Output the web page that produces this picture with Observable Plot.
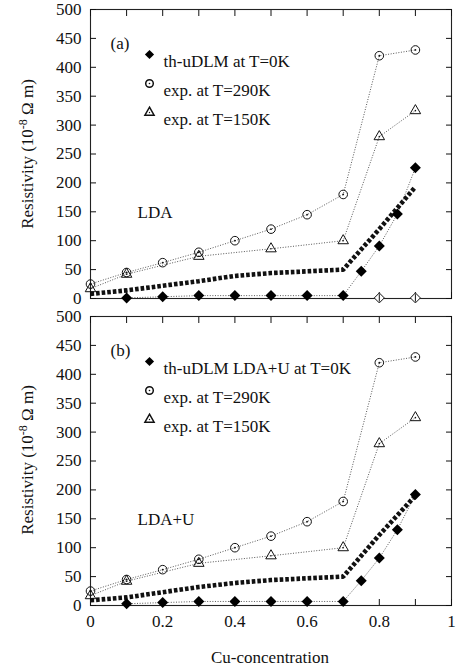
<!DOCTYPE html>
<html><head><meta charset="utf-8">
<script src="https://cdn.jsdelivr.net/npm/d3@7"></script>
<script src="https://cdn.jsdelivr.net/npm/@observablehq/plot@0.6"></script>
<style>
body{margin:0;background:#fff;}
#wrap{position:relative;width:463px;height:670px;font-family:"Liberation Serif","Tinos","Times New Roman","DejaVu Serif",serif;color:#111;background:#fff;}
.panel{position:absolute;left:0;}
.ylab{position:absolute;font-size:17px;white-space:nowrap;transform:translate(-50%,-50%) rotate(-90deg);}
.ylab sup{font-size:12px;}
.xlab{position:absolute;font-size:17px;transform:translate(-50%,-50%);white-space:nowrap;}
svg text{font-family:"Liberation Serif","Tinos","Times New Roman","DejaVu Serif",serif;}
</style></head><body><div id="wrap"></div>
<script>
// ---- data ----
const cuX = [0, 0.1, 0.2, 0.3, 0.4, 0.5, 0.6, 0.7, 0.8, 0.9];
const exp290 = [25, 45, 62, 80, 100, 120, 145, 180, 420, 430];
const x150 = [0, 0.1, 0.3, 0.5, 0.7, 0.8, 0.9];
const exp150 = [17, 42, 73, 86, 100, 280, 325];
const thX = [0.1, 0.2, 0.3, 0.4, 0.5, 0.6, 0.7, 0.75, 0.8, 0.85, 0.9];
const thLDA = [1, 3, 5, 5, 5, 5, 5, 47, 91, 146, 226];
const thLDAU = [3, 5, 7, 7, 7, 7, 7, 43, 82, 131, 192];
const openX = [0.8, 0.9];
const openLDA = [1, 1];
const fitLDA = [8, 14, 22, 30, 39, 44, 47, 50, 120, 193];
const fitLDAU = [9, 14, 23, 32, 39, 44, 47, 50, 122, 190];
const xTicks = [0, 0.1, 0.2, 0.3, 0.4, 0.5, 0.6, 0.7, 0.8, 0.9, 1];
const xTickLabels = [0, 0.2, 0.4, 0.6, 0.8, 1];
const yTicks = [0, 50, 100, 150, 200, 250, 300, 350, 400, 450, 500];
const legendA = ["th-uDLM at T=0K", "exp. at T=290K", "exp. at T=150K"];
const legendB = ["th-uDLM LDA+U at T=0K", "exp. at T=290K", "exp. at T=150K"];

const pts = (xs, ys) => xs.map((x, i) => ({x, y: ys[i]}));

const diamondSym = {draw(ctx, size) {const r = Math.sqrt(size / Math.PI);
  ctx.moveTo(0, -r); ctx.lineTo(r, 0); ctx.lineTo(0, r); ctx.lineTo(-r, 0); ctx.closePath();}};
const diamondBar = {draw(ctx, size) {const r = Math.sqrt(size / Math.PI);
  ctx.moveTo(0, -r); ctx.lineTo(r, 0); ctx.lineTo(0, r); ctx.lineTo(-r, 0); ctx.closePath();
  ctx.moveTo(0, -r * 0.75); ctx.lineTo(0, r * 0.75);}};

const thin = {stroke: "#444", strokeWidth: 0.9, strokeDasharray: "1,1.6", strokeLinecap: "butt"};
const ink = "#111";
const serif = '"Liberation Serif", "Tinos", "Times New Roman", "DejaVu Serif", serif';

function panel({tag, label, legend, th, fit, open, xLabels}) {
  const rowsDy = [45, 74, 103];
  const marks = [
    Plot.frame({stroke: "#222", strokeWidth: 1.1}),
    Plot.axisY(yTicks, {anchor: "left", tickSize: -6, tickPadding: 15, tickFormat: d => String(d), label: null}),
    Plot.axisY(yTicks, {anchor: "right", tickSize: -6, tickFormat: () => "", label: null}),
    Plot.axisX(xTicks, {anchor: "top", tickSize: -6, tickFormat: () => "", label: null}),
    Plot.axisX(xTicks, {anchor: "bottom", tickSize: -6, tickFormat: () => "", label: null}),
    Plot.line(pts(cuX, exp290), {x: "x", y: "y", ...thin}),
    Plot.line(pts(x150, exp150), {x: "x", y: "y", ...thin}),
    Plot.line(pts(thX, th), {x: "x", y: "y", ...thin}),
    Plot.line(pts(cuX, fit), {x: "x", y: "y", stroke: ink, strokeWidth: 4.6, strokeDasharray: "3.6,2", strokeLinecap: "butt", strokeLinejoin: "miter"}),
    Plot.dot(pts(cuX, exp290), {x: "x", y: "y", r: 4.3, stroke: ink, strokeWidth: 1, fill: "none"}),
    Plot.dot(pts(cuX, exp290), {x: "x", y: "y", r: 0.9, fill: ink}),
    Plot.dot(pts(x150, exp150), {x: "x", y: "y", symbol: "triangle", r: 3.9, stroke: ink, strokeWidth: 1, fill: "none"}),
    Plot.dot(pts(x150, exp150), {x: "x", y: "y", r: 0.8, fill: ink}),
    Plot.dot(pts(thX, th), {x: "x", y: "y", symbol: diamondSym, r: 5.5, fill: "#000", stroke: "none"}),
    Plot.text([tag], {frameAnchor: "top-left", dx: 20, dy: 27, text: d => d, textAnchor: "start", fill: ink}),
    Plot.text([label], {frameAnchor: "top-left", dx: 47, dy: 196, text: d => d, textAnchor: "start", fill: ink}),
    Plot.dot([0], {frameAnchor: "top-left", dx: 59, dy: rowsDy[0], symbol: diamondSym, r: 4.6, fill: "#000", stroke: "none"}),
    Plot.dot([0], {frameAnchor: "top-left", dx: 59, dy: rowsDy[1], r: 3.8, stroke: ink, fill: "none"}),
    Plot.dot([0], {frameAnchor: "top-left", dx: 59, dy: rowsDy[1], r: 0.8, fill: ink}),
    Plot.dot([0], {frameAnchor: "top-left", dx: 59, dy: rowsDy[2], symbol: "triangle", r: 3.4, stroke: ink, fill: "none"}),
    Plot.dot([0], {frameAnchor: "top-left", dx: 59, dy: rowsDy[2], r: 0.7, fill: ink}),
    ...legend.map((t, i) => Plot.text([t], {frameAnchor: "top-left", dx: 73, dy: rowsDy[i], text: d => d, textAnchor: "start", fill: ink}))
  ];
  if (open) marks.push(Plot.dot(pts(openX, open), {x: "x", y: "y", symbol: diamondBar, r: 5, stroke: ink, strokeWidth: 1, fill: "white"}));
  if (xLabels) marks.push(Plot.axisX(xTickLabels, {anchor: "bottom", tickSize: 0, tickPadding: 9, tickFormat: d => String(d), label: null}));
  return Plot.plot({
    width: 463, height: 9 + 289 + (xLabels ? 30 : 7),
    marginTop: 9, marginBottom: xLabels ? 30 : 7, marginLeft: 90, marginRight: 12,
    x: {domain: [0, 1]}, y: {domain: [0, 500]},
    style: {fontFamily: serif, fontSize: "17px", color: ink, background: "white", overflow: "visible"},
    marks
  });
}

const wrap = document.getElementById("wrap");
const a = panel({tag: "(a)", label: "LDA", legend: legendA, th: thLDA, fit: fitLDA, open: openLDA, xLabels: false});
a.classList.add("panel"); a.style.top = "0px"; wrap.appendChild(a);
const b = panel({tag: "(b)", label: "LDA+U", legend: legendB, th: thLDAU, fit: fitLDAU, open: null, xLabels: true});
b.classList.add("panel"); b.style.top = "307px"; wrap.appendChild(b);

function ylab(cy) {
  const d = document.createElement("div");
  d.className = "ylab"; d.style.left = "27px"; d.style.top = cy + "px";
  d.innerHTML = "Resistivity (10<sup>-8</sup> Ω m)";
  wrap.appendChild(d);
}
ylab(154); ylab(460);
const xl = document.createElement("div");
xl.className = "xlab"; xl.style.left = "270px"; xl.style.top = "658px"; xl.textContent = "Cu-concentration";
wrap.appendChild(xl);
</script></body></html>
